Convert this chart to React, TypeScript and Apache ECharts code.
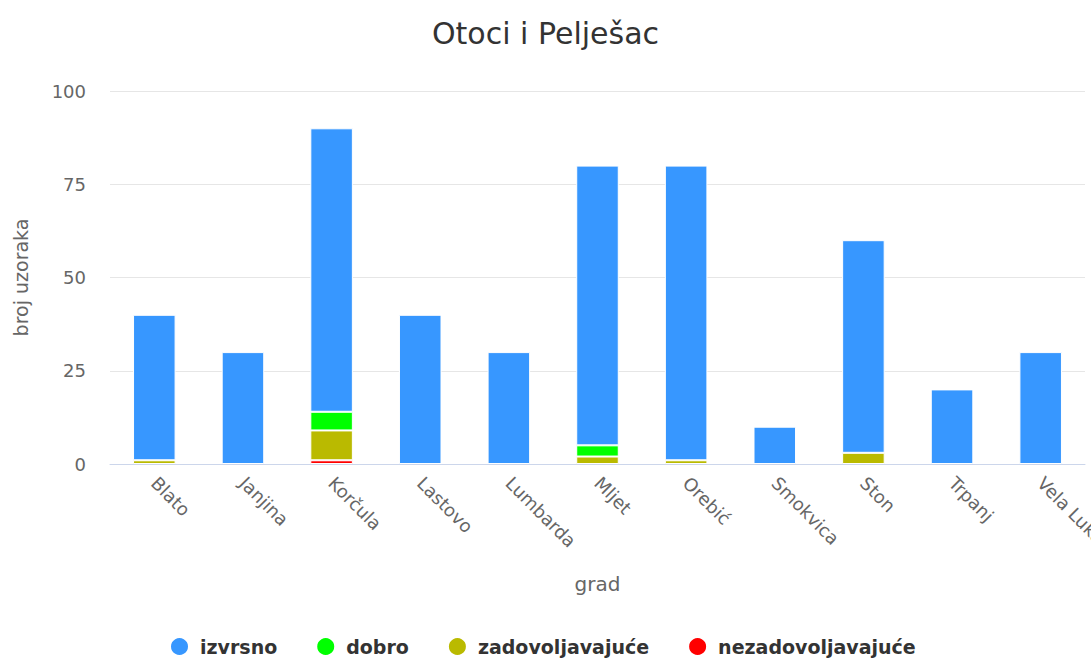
import React, { useEffect, useRef } from "react";
import * as echarts from "echarts";

const categories = ["Blato", "Janjina", "Korčula", "Lastovo", "Lumbarda", "Mljet", "Orebić", "Smokvica", "Ston", "Trpanj", "Vela Luka"];
const izvrsno = [39, 30, 76, 40, 30, 75, 79, 10, 57, 20, 30];
const dobro = [0, 0, 5, 0, 0, 3, 0, 0, 0, 0, 0];
const zadovoljavajuce = [1, 0, 8, 0, 0, 2, 1, 0, 3, 0, 0];
const nezadovoljavajuce = [0, 0, 1, 0, 0, 0, 0, 0, 0, 0, 0];
const yTicks = [0, 25, 50, 75, 100];

const FONT = "DejaVu Sans";

export default function App() {
  const ref = useRef<HTMLDivElement>(null);
  useEffect(() => {
    if (!ref.current) return;
    const chart = echarts.init(ref.current, null, { renderer: "svg" });
    const mk = (name: string, data: number[], color: string) => ({
      name,
      type: "bar",
      stack: "total",
      barWidth: "48%",
      data: data.map((v) => (v === 0 ? null : v)),
      itemStyle: { color, borderColor: "#ffffff", borderWidth: 1 },
    });
    chart.setOption({
      animation: false,
      textStyle: { fontFamily: FONT },
      title: {
        text: "Otoci i Pelješac",
        left: "center",
        top: 13,
        textStyle: { fontFamily: FONT, fontSize: 30, fontWeight: "normal", color: "#333333" },
      },
      legend: {
        top: 636,
        left: 169,
        padding: 0,
        icon: "circle",
        itemWidth: 19,
        itemHeight: 19,
        itemGap: 38,
        data: ["izvrsno", "dobro", "zadovoljavajuće", "nezadovoljavajuće"],
        textStyle: { fontFamily: FONT, fontSize: 19, fontWeight: "bold", color: "#333333", padding: [0, 0, 0, 6] },
      },
      grid: { left: 110, right: 6, top: 91, bottom: 195, outerBoundsMode: "none", containLabel: false },
      xAxis: {
        type: "category",
        data: categories,
        name: "grad",
        nameLocation: "middle",
        nameGap: 110,
        nameTextStyle: { fontFamily: FONT, fontSize: 20, color: "#666666" },
        axisLine: { lineStyle: { color: "#ccd6eb", width: 1 } },
        axisTick: { show: false },
        axisLabel: { rotate: -45, fontFamily: FONT, fontSize: 18, color: "#666666", margin: 16, interval: 0 },
      },
      yAxis: {
        type: "value",
        min: yTicks[0],
        max: yTicks[yTicks.length - 1],
        interval: 25,
        name: "broj uzoraka",
        nameLocation: "middle",
        nameGap: 80,
        nameTextStyle: { fontFamily: FONT, fontSize: 19, color: "#666666" },
        axisLine: { show: false },
        axisTick: { show: false },
        axisLabel: { fontFamily: FONT, fontSize: 18, color: "#666666", margin: 24 },
        splitLine: { lineStyle: { color: "#e6e6e6" } },
      },
      series: [
        mk("nezadovoljavajuće", nezadovoljavajuce, "#ff0000"),
        mk("zadovoljavajuće", zadovoljavajuce, "#baba00"),
        mk("dobro", dobro, "#00ff00"),
        mk("izvrsno", izvrsno, "#3797ff"),
      ],
    });
    return () => chart.dispose();
  }, []);
  return <div ref={ref} style={{ width: 1091, height: 659, position: "absolute", left: 0, top: 0 }} />;
}
